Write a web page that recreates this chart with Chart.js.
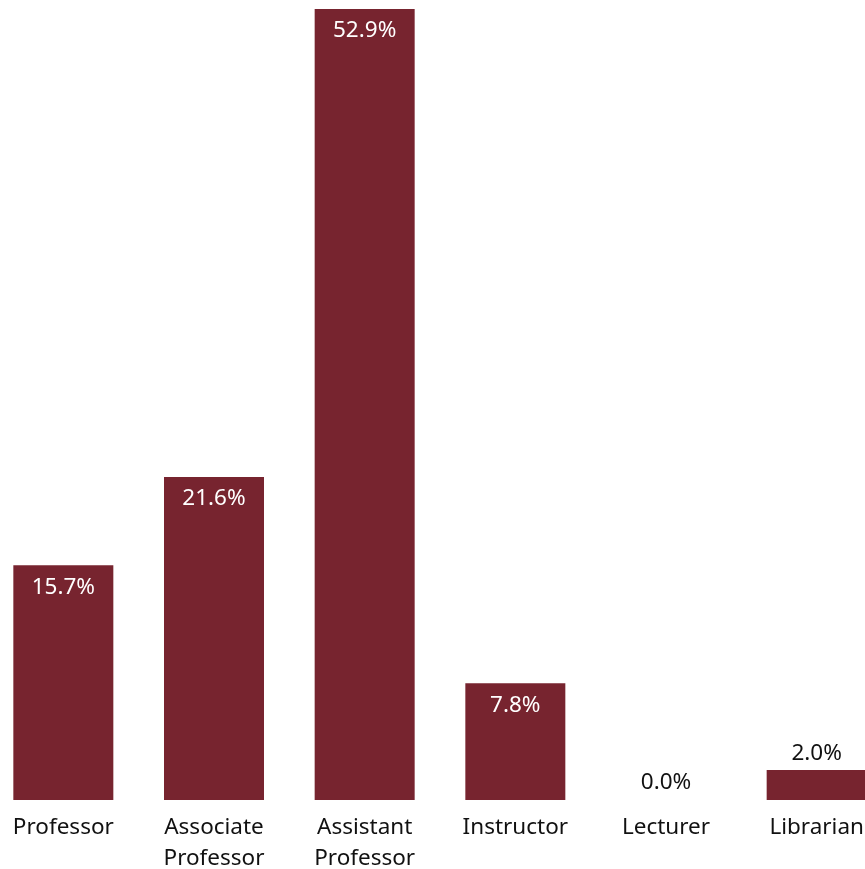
<!DOCTYPE html>
<html>
<head>
<meta charset="utf-8">
<script src="https://cdn.jsdelivr.net/npm/chart.js@4.4.1/dist/chart.umd.min.js"></script>
<style>
  html, body { margin: 0; padding: 0; background: #fff; overflow: hidden; }
  #wrap { position: absolute; left: -12px; top: 0; width: 904px; height: 869px; }
</style>
</head>
<body>
<div id="wrap"><canvas id="rankChart"></canvas></div>
<script>
// ==========================
// DATOS
// ==========================
const categories = [["Professor"], ["Associate", "Professor"], ["Assistant", "Professor"], ["Instructor"], ["Lecturer"], ["Librarian"]];
const percentages = [15.7, 21.6, 52.9, 7.8, 0.0, 2.0];
const barColor = "#77242f";
const fontFamily = "'Noto Sans', sans-serif";

// etiquetas de valor: dentro de la barra si cabe, encima si no
const valueLabels = {
    id: "valueLabels",
    afterDatasetsDraw(chart){
        const ctx = chart.ctx;
        const meta = chart.getDatasetMeta(0);
        ctx.save();
        ctx.font = "22.5px " + fontFamily;
        ctx.textAlign = "center";
        ctx.textBaseline = "middle";
        meta.data.forEach((bar, i) => {
            const text = percentages[i].toFixed(1) + "%";
            const h = bar.base - bar.y;
            if(h > 50){
                ctx.fillStyle = "#ffffff";
                ctx.fillText(text, bar.x, bar.y + 22);
            } else {
                ctx.fillStyle = "#111111";
                ctx.fillText(text, bar.x, bar.y - 17);
            }
        });
        ctx.restore();
    }
};

new Chart(document.getElementById("rankChart"), {
    type: "bar",
    data: {
        labels: categories,
        datasets: [{
            data: percentages,
            backgroundColor: barColor,
            borderWidth: 0,
            inflateAmount: 0,
            barThickness: 100
        }]
    },
    options: {
        responsive: true,
        maintainAspectRatio: false,
        animation: false,
        layout: { padding: { top: 9, left: 0, right: 0, bottom: 0 } },
        plugins: { legend: { display: false }, tooltip: { enabled: false } },
        scales: {
            x: {
                grid: { display: false, drawTicks: false },
                border: { display: false },
                ticks: {
                    color: "#111111",
                    padding: 12,
                    maxRotation: 0,
                    autoSkip: false,
                    font: { family: fontFamily, size: 22.5, lineHeight: 1.38 }
                },
                afterFit(axis){ axis.height = 69; }
            },
            y: {
                display: false,
                min: 0,
                max: 52.9
            }
        }
    },
    plugins: [valueLabels]
});
</script>
</body>
</html>
